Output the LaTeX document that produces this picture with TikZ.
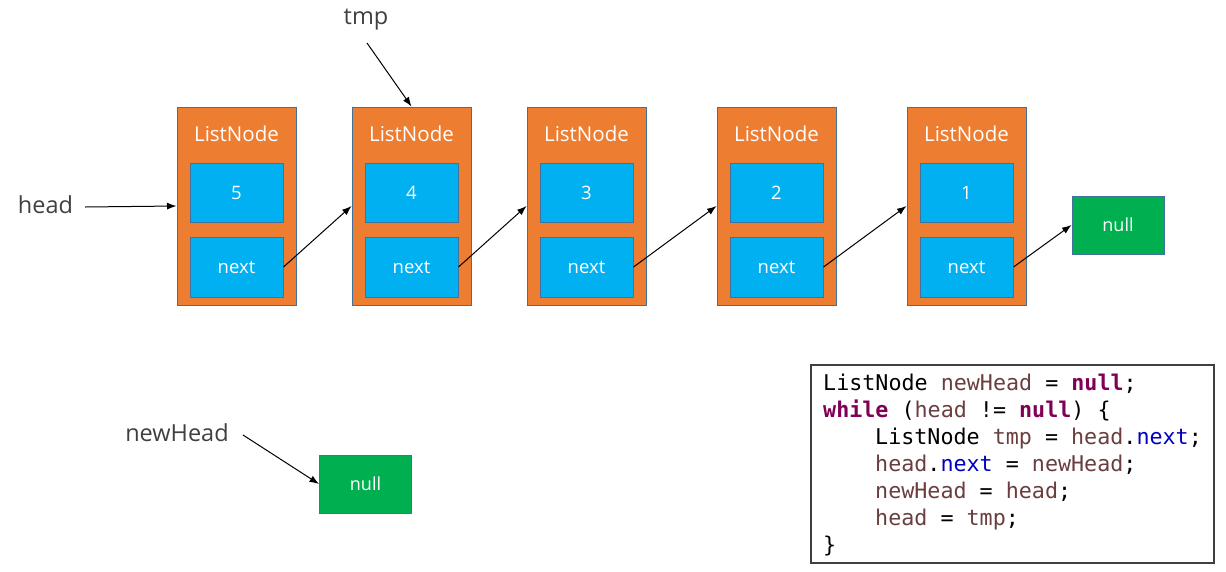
\documentclass[tikz,border=0pt]{standalone}
\usepackage{fontspec}
\setmainfont{Open Sans}
\setmonofont{DejaVu Sans Mono}
\usetikzlibrary{arrows.meta}
\definecolor{orng}{HTML}{ED7D31}
\definecolor{blu}{HTML}{00B0F0}
\definecolor{grn}{HTML}{00B050}
\definecolor{edge}{HTML}{41719C}
\definecolor{lbl}{HTML}{404040}
\definecolor{kw}{HTML}{7F0055}
\definecolor{var}{HTML}{6A3E3E}
\definecolor{fld}{HTML}{0000C0}
\newcommand{\kwd}[1]{\textcolor{kw}{\textbf{#1}}}
\newcommand{\vr}[1]{\textcolor{var}{#1}}
\newcommand{\fl}[1]{\textcolor{fld}{#1}}
\begin{document}
\begin{tikzpicture}[x=1pt,y=-1pt,
  outerbox/.style={draw=edge,fill=orng,line width=1pt,minimum width=119pt,minimum height=198pt,inner sep=0pt},
  valbox/.style={draw=edge,fill=blu,line width=1pt,minimum width=93pt,minimum height=59pt,inner sep=0pt,text=white,font=\fontsize{18.5}{20}\selectfont},
  nullbox/.style={draw=edge,fill=grn,line width=1pt,minimum width=92pt,minimum height=58pt,inner sep=0pt,text=white,font=\fontsize{18}{20}\selectfont},
  title/.style={text=white,font=\fontsize{20.5}{22}\selectfont,inner sep=0pt},
  lab/.style={text=lbl,font=\fontsize{23.5}{26}\selectfont,inner sep=0pt},
  arr/.style={-{Latex[length=9.5pt,width=7pt]},line width=1pt,black},
  codeline/.style={anchor=base west,inner sep=0pt,font=\fontsize{21.7}{27}\ttfamily}
]
\useasboundingbox (0,0) rectangle (1226,571);

% list nodes
\foreach \i/\x/\v in {1/236.5/5,2/411.5/4,3/586.5/3,4/776.5/2,5/966.5/1}{
  \node[outerbox] (n\i) at (\x,206) {};
  \node[title] (t\i) at (\x,134) {ListNode};
  \node[valbox] (v\i) at (\x,193) {\raisebox{-2pt}{\v}};
  \node[valbox,minimum height=60pt] (x\i) at (\x,267) {next};
}

\node[nullbox] (nullR) at (1118,225) {null};
\node[nullbox] (nullB) at (365.5,484) {null};

% labels
\node[lab] (head) at (45.5,205) {head};
\node[lab] (tmp) at (366,20) {tmp};
\node[lab] (newhead) at (177,433) {newHead};
\coordinate (headE) at (85,207);
\coordinate (tmpS) at (367,43);
\coordinate (nhE) at (243,435);

% connectors
\draw[arr] (headE) -- (n1.west);
\draw[arr] (tmpS) -- (n2.north);
\draw[arr] (nhE) -- (nullB.west);
\draw[arr] (x1.east) -- (n2.west);
\draw[arr] (x2.east) -- (n3.west);
\draw[arr] (x3.east) -- (n4.west);
\draw[arr] (x4.east) -- (n5.west);
\draw[arr] (x5.east) -- (nullR.west);

% code box
\node[draw=black!75,line width=1.2pt,minimum width=403pt,minimum height=198pt,inner sep=0pt] (code) at (1012.5,464) {};
\node[codeline] (c1) at (823,390) {ListNode \vr{newHead} = \kwd{null};};
\node[codeline] (c2) at (823,417) {\kwd{while} (\vr{head} != \kwd{null}) \{};
\node[codeline] (c3) at (875,444) {ListNode \vr{tmp} = \vr{head}.\fl{next};};
\node[codeline] (c4) at (875,471) {\vr{head}.\fl{next} = \vr{newHead};};
\node[codeline] (c5) at (875,498) {\vr{newHead} = \vr{head};};
\node[codeline] (c6) at (875,525) {\vr{head} = \vr{tmp};};
\node[codeline] (c7) at (823,552) {\}};
\end{tikzpicture}
\end{document}
